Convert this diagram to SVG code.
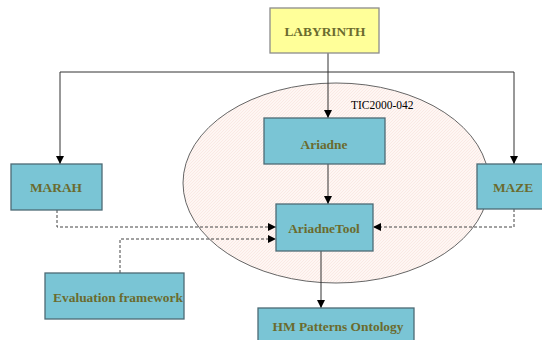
<svg xmlns="http://www.w3.org/2000/svg" width="542" height="340" viewBox="0 0 542 340">
  <style>
    .box { fill: #7ac5d5; stroke: #4d6a75; stroke-width: 1.3; }
    .top { fill: #ffff99; stroke: #8c8c8c; stroke-width: 1.3; }
    .lbl { font-family: "Liberation Serif", "Times New Roman", serif; font-weight: bold; font-size: 13.4px; fill: #6b6b2e; text-anchor: middle; dominant-baseline: central; }
    .solid { fill: none; stroke: #333; stroke-width: 1; }
    .dash { fill: none; stroke: #444; stroke-width: 1; stroke-dasharray: 3 2; }
    .note { font-family: "Liberation Serif", "Times New Roman", serif; font-size: 11.5px; fill: #000; }
  </style>
  <defs>
    <marker id="arrow" viewBox="0 0 10 10" refX="10" refY="5" markerWidth="8" markerHeight="8" markerUnits="userSpaceOnUse" orient="auto">
      <path d="M0,0 L10,5 L0,10 z" fill="#000"/>
    </marker>
    <pattern id="hatch" width="3" height="3" patternUnits="userSpaceOnUse">
      <rect width="3" height="3" fill="#fef6f3"/>
      <path d="M0,3 L3,0" stroke="#f7ddd5" stroke-width="0.5"/>
    </pattern>
  </defs>

  <!-- project scope -->
  <g id="scope">
    <ellipse cx="336" cy="183" rx="153" ry="100" fill="url(#hatch)" stroke="#666" stroke-width="1"/>
    <text class="note" x="351" y="109">TIC2000-042</text>
  </g>

  <g id="connectors">
    <path class="solid" d="M60,72 H514"/>
    <path class="solid" d="M328,53 V118" marker-end="url(#arrow)"/>
    <path class="solid" d="M60,72 V164" marker-end="url(#arrow)"/>
    <path class="solid" d="M514,72 V164" marker-end="url(#arrow)"/>
    <path class="solid" d="M328,164 V204" marker-end="url(#arrow)"/>
    <path class="solid" d="M321,251 V308" marker-end="url(#arrow)"/>
    <path class="dash" d="M57,210 V227 H276" marker-end="url(#arrow)"/>
    <path class="dash" d="M120,273 V239 H276" marker-end="url(#arrow)"/>
    <path class="dash" d="M514,209 V227 H373" marker-end="url(#arrow)"/>
  </g>

  <g id="labyrinth">
    <rect class="top" x="270" y="8" width="109" height="45"/>
    <text class="lbl" x="325" y="31">LABYRINTH</text>
  </g>
  <g id="ariadne">
    <rect class="box" x="264" y="118" width="121" height="46"/>
    <text class="lbl" x="324" y="144">Ariadne</text>
  </g>
  <g id="marah">
    <rect class="box" x="11" y="164" width="91" height="46"/>
    <text class="lbl" x="56" y="187">MARAH</text>
  </g>
  <g id="maze">
    <rect class="box" x="477" y="164" width="66" height="45"/>
    <text class="lbl" x="513" y="187">MAZE</text>
  </g>
  <g id="ariadnetool">
    <rect class="box" x="276" y="204" width="97" height="47"/>
    <text class="lbl" x="324" y="228">AriadneTool</text>
  </g>
  <g id="evaluation">
    <rect class="box" x="45" y="273" width="139" height="46"/>
    <text class="lbl" x="118" y="297">Evaluation framework</text>
  </g>
  <g id="hmpatterns">
    <rect class="box" x="258" y="308" width="156" height="40"/>
    <text class="lbl" x="338" y="326">HM Patterns Ontology</text>
  </g>
</svg>
